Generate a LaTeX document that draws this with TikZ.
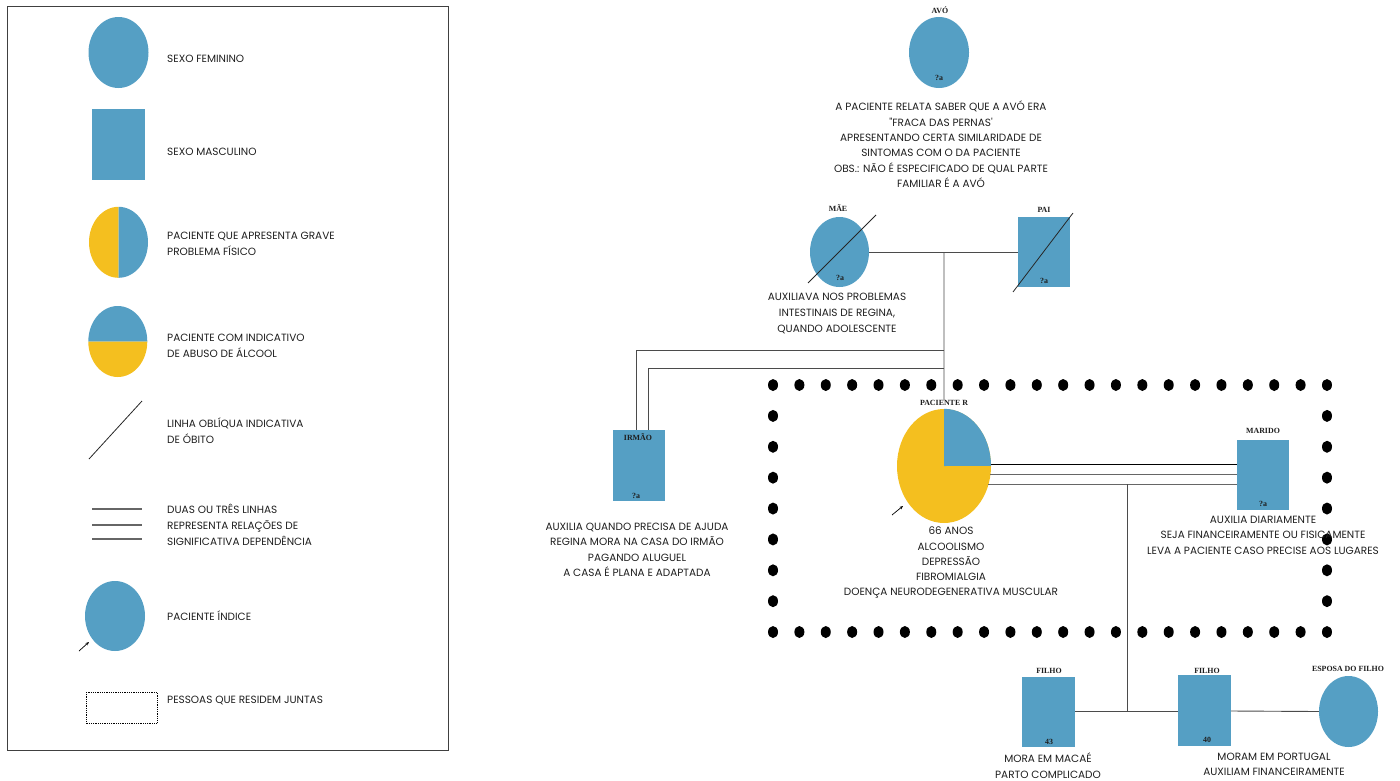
\documentclass[tikz,border=0pt]{standalone}
\usepackage{fontspec}
\setmainfont{Poppins}
\newfontfamily\labfont{Liberation Serif}
\usetikzlibrary{shapes.geometric,calc,arrows.meta}
\definecolor{fblue}{RGB}{85,159,196}
\definecolor{fyel}{RGB}{244,191,31}
\definecolor{ln}{RGB}{75,75,75}
\definecolor{tx}{RGB}{30,30,30}
\begin{document}
\begin{tikzpicture}[x=1pt,y=-1pt,
  fem/.style={ellipse, fill=fblue, minimum width=60, minimum height=71, inner sep=0},
  masc/.style={rectangle, fill=fblue, minimum width=53, minimum height=71, inner sep=0},
  lbl/.style={font=\labfont\bfseries\fontsize{7.9}{9}\selectfont, inner sep=0, text=tx},
  age/.style={font=\labfont\bfseries\fontsize{7.9}{9}\selectfont, inner sep=0, text=tx},
  txt/.style={font=\fontsize{10.5}{15.3}\selectfont, align=center, inner sep=0, text=tx},
  ltxt/.style={font=\fontsize{10.5}{15.8}\selectfont, align=left, inner sep=0, anchor=west, text=tx},
  conn/.style={draw=ln, line width=0.9pt},
  obit/.style={draw=black!85, line width=0.8pt},
  dot/.style={fill=black}]
\useasboundingbox (0,0) rectangle (1400,780);

% ---------------- legend ----------------
\node[draw=black!75, line width=1.3pt, minimum width=441, minimum height=744, inner sep=0, anchor=north west] (legbox) at (7,6) {};

\node[fem] (lf) at (118.5,52.5) {};
\node[ltxt] (lft) at (167,59) {SEXO FEMININO};

\node[masc] (lm) at (118.5,144.5) {};
\node[ltxt] (lmt) at (167,152) {SEXO MASCULINO};

\node[fem, fill=none] (lh) at (118.5,242.5) {};
\fill[fyel] (lh.north) arc[start angle=-90, end angle=-270, x radius=29.5, y radius=35.5] -- cycle;
\fill[fblue] (lh.north) arc[start angle=-90, end angle=90, x radius=29.5, y radius=35.5] -- cycle;
\node[ltxt] (lht) at (167,243.5) {PACIENTE QUE APRESENTA GRAVE\\PROBLEMA FÍSICO};

\node[fem, fill=none] (la) at (118.5,341.5) {};
\fill[fblue] (la.west) arc[start angle=180, end angle=360, x radius=29.5, y radius=35.5] -- cycle;
\fill[fyel] (la.west) arc[start angle=180, end angle=0, x radius=29.5, y radius=35.5] -- cycle;
\node[ltxt] (lat) at (167,346) {PACIENTE COM INDICATIVO\\DE ABUSO DE ÁLCOOL};

\coordinate (lo1) at (89,459);
\coordinate (lo2) at (142,401);
\draw[obit] (lo1) -- (lo2);
\node[ltxt] (lot) at (167,430.5) {LINHA OBLÍQUA INDICATIVA\\DE ÓBITO};

\foreach \yy in {509,525,539} {\draw[draw=black!60, line width=1.3pt] (92,\yy) -- (142,\yy);}
\node[ltxt] (ldt) at (167,525) {DUAS OU TRÊS LINHAS\\REPRESENTA RELAÇÕES DE\\SIGNIFICATIVA DEPENDÊNCIA};

\node[fem, minimum height=70] (li) at (115,616) {};
\coordinate (lia) at (79,651);
\draw[-{Stealth[length=3.5pt,width=3pt]}, line width=0.7pt] (lia) -- ($(li.center)+(-26,26)$);
\node[ltxt] (lit) at (167,616) {PACIENTE ÍNDICE};

\draw[densely dotted, line width=0.8pt] (86,692) rectangle (157,723);
\node[ltxt] (lrt) at (167,700) {PESSOAS QUE RESIDEM JUNTAS};

% ---------------- household dots ----------------
\foreach \i in {0,...,21} {
  \fill[dot] (773+26.38*\i,385) ellipse[x radius=5, y radius=6];
  \fill[dot] (773+26.38*\i,632) ellipse[x radius=5, y radius=6];
}
\foreach \j in {1,...,7} {
  \fill[dot] (773,385+30.875*\j) ellipse[x radius=5, y radius=6];
  \fill[dot] (1327,385+30.875*\j) ellipse[x radius=5, y radius=6];
}

% ---------------- avo ----------------
\node[fem] (avo) at (939,52.5) {};
\node[lbl] (avol) at (940,10) {AVÓ};
\node[age] (avoa) at (939,78) {?a};
\node[txt, anchor=north] (avot) at (941,101) {A PACIENTE RELATA SABER QUE A AVÓ ERA\\\textquotedbl FRACA DAS PERNAS\textquotesingle\\APRESENTANDO CERTA SIMILARIDADE DE\\SINTOMAS COM O DA PACIENTE\\OBS.: NÃO É ESPECIFICADO DE QUAL PARTE\\FAMILIAR É A AVÓ};

% ---------------- parents ----------------
\node[fem, minimum width=59, minimum height=70] (mae) at (839.5,252) {};
\node[lbl] (mael) at (838,208) {MÃE};
\node[age] (maea) at (840,278) {?a};
\draw[obit] ($(mae.center)+(-31.5,31)$) -- ($(mae.center)+(36.5,-37)$);
\node[txt, anchor=north, font=\fontsize{10.5}{16}\selectfont] (maet) at (837,293) {AUXILIAVA NOS PROBLEMAS\\INTESTINAIS DE REGINA,\\QUANDO ADOLESCENTE};

\node[masc, minimum width=52, minimum height=70] (pai) at (1044,252) {};
\node[lbl] (pail) at (1044,210) {PAI};
\node[age] (paia) at (1044,281) {?a};
\draw[obit] ($(pai.center)+(-31,40)$) -- ($(pai.center)+(29,-39)$);

\draw[conn] (mae.east) -- (pai.west);
\coordinate (mp) at ($(mae.east)!0.5!(pai.west)+(0.5,0)$);

% ---------------- patient ----------------
\node[ellipse, fill=fyel, minimum width=94, minimum height=114, inner sep=0] (pat) at (944,466) {};
\fill[fblue] (pat.center) -- (pat.north) arc[start angle=-90, end angle=0, x radius=47, y radius=57] -- cycle;
\node[lbl] (patl) at (944,403) {PACIENTE R};
\draw[-{Stealth[length=3.5pt,width=3pt]}, line width=0.7pt] ($(pat.center)+(-52,49)$) -- ($(pat.center)+(-41,40)$);
\node[txt, anchor=north, font=\fontsize{10.5}{15.2}\selectfont] (patt) at (951,527) {66 ANOS\\ALCOOLISMO\\DEPRESSÃO\\FIBROMIALGIA\\DOENÇA NEURODEGENERATIVA MUSCULAR};

\draw[conn] (mp) -- (patl.north);

% ---------------- brother ----------------
\node[masc, minimum width=52, minimum height=71] (irm) at (639,465.5) {};
\node[lbl] (irml) at (638,437) {IRMÃO};
\node[age] (irma) at (636,496) {?a};
\node[txt, anchor=north] (irmt) at (637,523) {AUXILIA QUANDO PRECISA DE AJUDA\\REGINA MORA NA CASA DO IRMÃO\\PAGANDO ALUGUEL\\A CASA É PLANA E ADAPTADA};
\coordinate (b1) at (mp |- 0,350);
\coordinate (b2) at (mp |- 0,368);
\draw[conn] (b1) -| ($(irm.north)+(-3,0)$);
\draw[conn] (b2) -| ($(irm.north)+(9,0)$);

% ---------------- husband ----------------
\node[masc, minimum width=52, minimum height=70] (mar) at (1263,475) {};
\node[lbl] (marl) at (1263,431) {MARIDO};
\node[age] (mara) at (1263,504) {?a};
\node[txt, anchor=north] (mart) at (1263,516) {AUXILIA DIARIAMENTE\\SEJA FINANCEIRAMENTE OU FISICAMENTE\\LEVA A PACIENTE CASO PRECISE AOS LUGARES};
\coordinate (h1) at ($(pat.east)+(-0.5,-2)$);
\coordinate (h2) at ($(pat.east)+(-1,8)$);
\coordinate (h3) at ($(pat.east)+(-3,18)$);
\draw[draw=black, line width=1pt] (h1) -- (h1 -| mar.west);
\draw[conn, draw=black!60] (h2) -- (h2 -| mar.west);
\draw[conn, draw=black!60] (h3) -- (h3 -| mar.west);

% ---------------- children ----------------
\node[masc, minimum width=53, minimum height=70] (f1) at (1048.5,712) {};
\node[lbl] (f1l) at (1049,671) {FILHO};
\node[age] (f1a) at (1049,742) {43};
\node[txt, anchor=north] (f1t) at (1048,753) {MORA EM MACAÉ\\PARTO COMPLICADO};

\node[masc, minimum width=53, minimum height=71] (f2) at (1204.5,710.5) {};
\node[lbl] (f2l) at (1207,671) {FILHO};
\node[age] (f2a) at (1207,740) {40};

\node[fem, minimum width=59, minimum height=71] (esp) at (1348.5,711.5) {};
\node[lbl] (espl) at (1348,669) {ESPOSA DO FILHO};
\node[txt, anchor=north] (f2t) at (1274,753) {MORAM EM PORTUGAL\\AUXILIAM FINANCEIRAMENTE};

\coordinate (cj) at (h3 -| 1127,0);
\coordinate (cb) at (1127,711);
\draw[conn] (cj) -- (cb);
\draw[conn] (f1.east |- cb) -- (f2.west |- cb);
\draw[conn] (f2.east |- cb) -- (esp.west);
\end{tikzpicture}
\end{document}
